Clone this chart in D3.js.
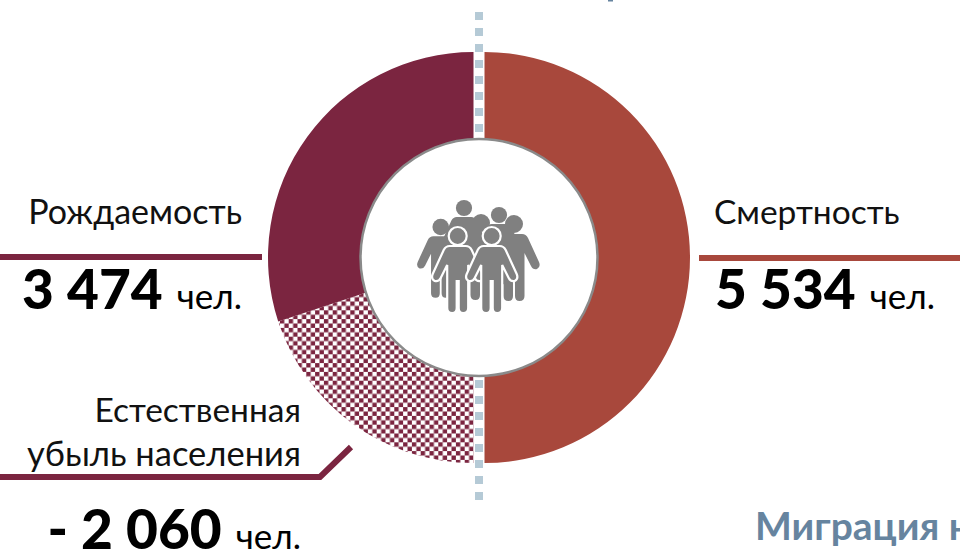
<!DOCTYPE html>
<html><head><meta charset="utf-8">
<script src="https://cdnjs.cloudflare.com/ajax/libs/d3/7.8.5/d3.min.js"></script>
<style>html,body{margin:0;padding:0;background:#fff;overflow:hidden}svg{display:block}text{font-family:Lato,"Open Sans",sans-serif}</style>
</head><body><svg id="c" width="960" height="553"></svg>
<script>
const categories = ["Смертность", "Естественная убыль населения", "Рождаемость"];
const sliceValues = [5534, 2210, 3324];
const sliceColors = ["#a8483c", "url(#check)", "#7b2540"];
const labelNumbers = ["5 534", "- 2 060", "3 474"];

const svg = d3.select("#c");
const defs = svg.append("defs");
const cell = 4.4;
const pat = defs.append("pattern").attr("id","check").attr("width",2*cell).attr("height",2*cell)
  .attr("patternUnits","userSpaceOnUse");
pat.append("rect").attr("width",2*cell).attr("height",2*cell).attr("fill","#fff");
pat.append("rect").attr("width",cell).attr("height",cell).attr("fill","#7b2540");
pat.append("rect").attr("x",cell).attr("y",cell).attr("width",cell).attr("height",cell).attr("fill","#7b2540");

const cy = 257.5, cx = 479, R = 205.5, r0 = 108;
const pie = d3.pie().sort(null).value(d=>d)(sliceValues);
const arc = d3.arc().innerRadius(r0).outerRadius(R);
svg.selectAll("path.slice").data(pie).join("path").attr("class","slice")
  .attr("transform",(d,i)=>`translate(${i===0?cx+5.5:cx-5.5},${cy})`)
  .attr("d",arc).attr("fill",(d,i)=>sliceColors[i]);

// dotted axis
[[12,140],[380,500]].forEach(([a,b])=>svg.append("line").attr("x1",479).attr("x2",479).attr("y1",a).attr("y2",b)
  .attr("stroke","#b5cad6").attr("stroke-width",8).attr("stroke-dasharray","8 8"));

svg.append("circle").attr("cx",cx).attr("cy",cy).attr("r",118.5).attr("fill","#fff").attr("stroke","#8a8a8a").attr("stroke-width",2.5);

// people icon
function person(x,y,s,halo){
  const g = svg.append("g").attr("transform",`translate(${x},${y}) scale(${s})`);
  const body = "M-8,10 L8,10 Q12,10 14,14 L25,38 Q27,43 23,45 Q19,46 17,42 L10.5,29 L10.5,72 Q10.5,77 5.5,77 Q1,77 1,72 L1,45 L-1,45 L-1,72 Q-1,77 -5.5,77 Q-10.5,77 -10.5,72 L-10.5,29 L-17,42 Q-19,46 -23,45 Q-27,43 -25,38 L-14,14 Q-12,10 -8,10 Z";
  const sw = halo ? 2.2 : 0, sc = halo ? "#fff" : "none";
  g.append("path").attr("d",body).attr("fill","#808080").attr("stroke",sc).attr("stroke-width",sw);
  g.append("circle").attr("r",9).attr("fill","#808080").attr("stroke",sc).attr("stroke-width",sw);
}
person(464,208,0.9,false);
person(499,215,0.9,false);
person(481,223,1,false);
person(440.7,227,0.92,false);
person(514,224,1,false);
person(457.7,236,1,true);
person(491.7,236,1,true);

// labels
const lbl=(x,y,t,size,anchor,weight,fill)=>svg.append("text").attr("x",x).attr("y",y).attr("font-size",size)
  .attr("text-anchor",anchor||"start").attr("font-weight",weight||400).attr("fill",fill||"#111").text(t);
function numLabel(x,y,num){
  const t=svg.append("text").attr("x",x).attr("y",y).attr("text-anchor","end").attr("fill","#000");
  t.append("tspan").attr("font-size",55).attr("font-weight",900).text(num);
  t.append("tspan").attr("font-size",35).attr("dx",14).text("чел.");
}
lbl(242,224,categories[2],34,"end");
lbl(714,224,categories[0],33.5,"start");
lbl(301,422,"Естественная",33.5,"end");
lbl(301,466,"убыль населения",34.5,"end");
numLabel(242,309,labelNumbers[2]);
numLabel(935,309,labelNumbers[0]);
numLabel(301,549,labelNumbers[1]);
lbl(755,540,"Миграция н",39,"start",700,"#66849f");
svg.append("rect").attr("x",608).attr("y",0).attr("width",5).attr("height",1.5).attr("fill","#66849f");

svg.append("line").attr("x1",0).attr("x2",262).attr("y1",257).attr("y2",257).attr("stroke","#7b2540").attr("stroke-width",6);
svg.append("line").attr("x1",699).attr("x2",960).attr("y1",258).attr("y2",258).attr("stroke","#a8483c").attr("stroke-width",6);
svg.append("path").attr("d",d3.line()([[0,477],[320,477],[351,447]])).attr("fill","none").attr("stroke","#7b2540").attr("stroke-width",6);
</script></body></html>
